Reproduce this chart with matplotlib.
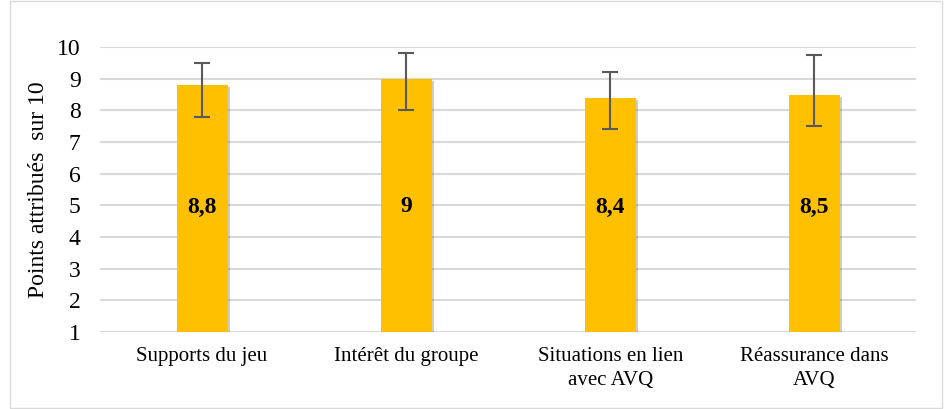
import numpy as np
import matplotlib
matplotlib.use("Agg")
import matplotlib.pyplot as plt
from matplotlib.patches import Rectangle
import matplotlib.patheffects as pe

plt.rcParams['font.family'] = ['Liberation Serif', 'DejaVu Serif']

categories = ["Supports du jeu", "Intérêt du groupe",
              "Situations en lien\navec AVQ", "Réassurance dans\nAVQ"]
scores = [8.8, 9.0, 8.4, 8.5]
err_low = [1.0, 1.0, 1.0, 1.0]
err_high = [0.7, 0.8, 0.8, 1.25]

fig = plt.figure(figsize=(9.47, 4.09), dpi=100)
ax = fig.add_axes([0.1056, 0.188, 0.862, 0.697])

x = np.arange(len(categories))
base = 1
bars = ax.bar(x, np.array(scores) - base, bottom=base, width=0.25,
              color='#FFC000', zorder=3,
              path_effects=[pe.SimplePatchShadow(offset=(1.5, -1.5), alpha=0.25),
                            pe.Normal()])
ax.errorbar(x, scores, yerr=[err_low, err_high], fmt='none',
            ecolor='#595959', elinewidth=1.5, capsize=6, capthick=1.5, zorder=4)

for xi, v in zip(x, scores):
    ax.text(xi, 4.95, f"{v:g}".replace('.', ','), ha='center', va='center',
            fontsize=17, fontweight='bold', zorder=5)

ax.set_xlim(-0.5, len(categories) - 0.5)
ax.set_ylim(1, 10)
ax.set_yticks(range(1, 11))
ax.tick_params(axis='y', labelsize=17, length=0, pad=14)
ax.set_xticks(x)
ax.set_xticklabels(categories, fontsize=15, linespacing=1.35)
ax.tick_params(axis='x', length=0, pad=11)
ax.yaxis.grid(True, color='#D9D9D9', linewidth=1.5, zorder=0)
ax.set_axisbelow(True)
for s in ax.spines.values():
    s.set_visible(False)
ax.set_ylabel("Points attribués  sur 10", fontsize=17, labelpad=6)

fig.patches.append(Rectangle((0.011, 0.003), 0.984, 0.994, transform=fig.transFigure,
                             fill=False, edgecolor='#D9D9D9', linewidth=1))

fig.savefig("out.png", dpi=100)
